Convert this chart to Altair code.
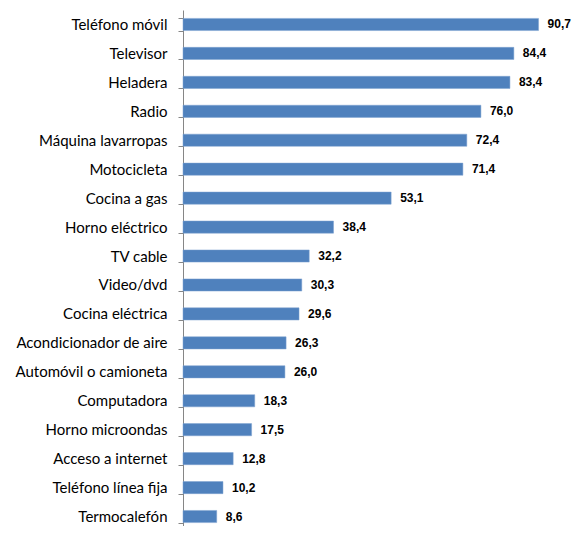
import altair as alt
import pandas as pd

categories = [
    "Teléfono móvil", "Televisor", "Heladera", "Radio", "Máquina lavarropas",
    "Motocicleta", "Cocina a gas", "Horno eléctrico", "TV cable", "Video/dvd",
    "Cocina eléctrica", "Acondicionador de aire", "Automóvil o camioneta",
    "Computadora", "Horno microondas", "Acceso a internet",
    "Teléfono línea fija", "Termocalefón",
]
values = [90.7, 84.4, 83.4, 76.0, 72.4, 71.4, 53.1, 38.4, 32.2, 30.3,
          29.6, 26.3, 26.0, 18.3, 17.5, 12.8, 10.2, 8.6]

df = pd.DataFrame({"cat": categories, "v": values})

y = alt.Y("cat:N", sort=categories, title=None,
          scale=alt.Scale(paddingInner=0.58, paddingOuter=0.29, range=[0, 521]),
          axis=alt.Axis(domainColor="#868686", tickColor="#868686", tickSize=5,
                        tickBand="extent", labelFont="Lato", labelFontSize=15,
                        labelColor="#000000", labelPadding=11, labelLimit=200))
x = alt.X("v:Q", scale=alt.Scale(domain=[0, 100], range=[0, 392]), axis=None)

bars = alt.Chart(df).mark_bar(color="#4F81BD", stroke="#7FA3D0", strokeWidth=0.5).encode(y=y, x=x)
text = alt.Chart(df).transform_calculate(
    lbl="replace(format(datum.v, '.1f'), '.', ',')"
).mark_text(align="left", baseline="middle", dx=9, font="Liberation Sans",
            fontWeight="bold", fontSize=12, color="#000000").encode(
    y=alt.Y("cat:N", sort=categories), x=x, text="lbl:N")

chart = (bars + text).properties(
    width=389, height=516,
    autosize=alt.AutoSizeParams(type="none"),
    padding={"left": 175, "top": 2, "right": 0, "bottom": 0},
).configure_view(stroke=None)

chart.save("out.html", embed_options={"renderer": "svg", "actions": False})
